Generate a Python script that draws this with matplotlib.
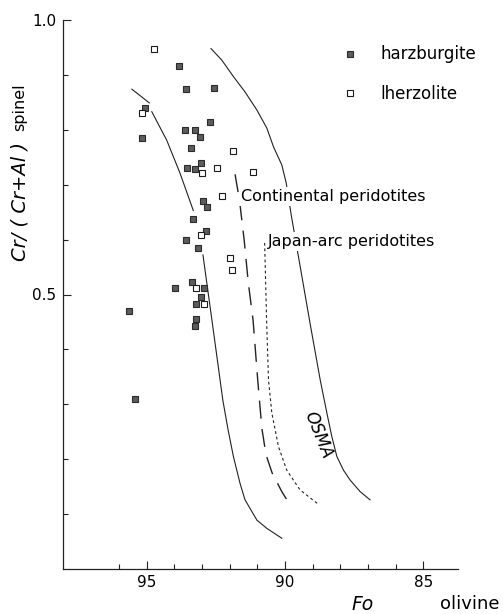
import numpy as np
import matplotlib.pyplot as plt

# Fo (olivine) and Cr# (spinel) of the samples
harz_fo = [93.84, 93.57, 92.58, 95.05, 92.72, 95.16, 93.63, 93.24, 93.08, 93.42,
           93.04, 93.53, 93.24, 92.98, 92.81, 93.33, 92.85, 93.59, 93.15, 93.35,
           93.99, 92.94, 93.03, 93.21, 93.21, 93.26, 95.64, 95.43]
harz_cr = [0.916, 0.874, 0.876, 0.840, 0.815, 0.785, 0.799, 0.799, 0.787, 0.767,
           0.739, 0.730, 0.728, 0.670, 0.659, 0.637, 0.616, 0.599, 0.585, 0.523,
           0.511, 0.511, 0.495, 0.482, 0.455, 0.442, 0.470, 0.310]
lherz_fo = [94.74, 95.16, 91.87, 92.47, 92.99, 91.15, 92.29, 93.05, 92.01, 91.92,
            93.22, 92.95]
lherz_cr = [0.948, 0.831, 0.761, 0.730, 0.721, 0.724, 0.680, 0.609, 0.567, 0.544,
            0.511, 0.482]

# left boundary line (broken where the symbols sit)
lim_fo = [95.54, 94.91, np.nan, 94.82, 94.28, 93.80, 93.32, np.nan,
          92.97, 92.61, 92.25, 92.06, 91.87, 91.63, 91.45, 91.02, 90.66, 90.12]
lim_cr = [0.874, 0.849, np.nan, 0.833, 0.781, 0.721, 0.653, np.nan,
          0.572, 0.440, 0.307, 0.253, 0.205, 0.156, 0.126, 0.089, 0.074, 0.056]

# continental peridotites
cont_fo = [91.81, 91.65, 91.48, 91.33, 91.16, 90.99, 90.84, 90.69, 90.47, 90.12, 89.86]
cont_cr = [0.719, 0.672, 0.599, 0.521, 0.454, 0.344, 0.256, 0.208, 0.175, 0.141, 0.120]

# japan-arc peridotites
jap_fo = [90.74, 90.67, 90.60, 90.48, 90.24, 89.94, 89.46, 88.80]
jap_cr = [0.594, 0.454, 0.344, 0.284, 0.223, 0.180, 0.144, 0.118]

# OSMA
osma_fo = [92.68, 92.29, 91.87, 91.45, 91.02, 90.66, 90.42, 90.12, 89.96, 89.78,
           89.58, 89.10, 88.73, 88.49, 88.31, 88.13, 87.89, 87.65, 87.29, 86.93]
osma_cr = [0.948, 0.927, 0.897, 0.869, 0.836, 0.803, 0.769, 0.736, 0.703, 0.645,
           0.587, 0.448, 0.344, 0.284, 0.241, 0.205, 0.180, 0.162, 0.141, 0.126]

lc = '#222222'

fig = plt.figure(figsize=(5.03, 6.14), dpi=100)
ax = fig.add_axes([63/503, 1-569/614, (458-63)/503, (569-20)/614])

ax.plot(lim_fo, lim_cr, color=lc, lw=0.8)
ax.plot(cont_fo, cont_cr, color=lc, lw=1.0, linestyle=(0, (13, 7.5)))
ax.plot(jap_fo, jap_cr, color=lc, lw=0.8, linestyle=(0, (2.5, 2.5)))
ax.plot(osma_fo, osma_cr, color=lc, lw=0.8)

ax.plot(harz_fo, harz_cr, 's', ms=5, mfc='#5c5c5c', mec='#2a2a2a', mew=0.8,
        label='harzburgite', zorder=5)
ax.plot(lherz_fo, lherz_cr, 's', ms=5, mfc='white', mec='#1a1a1a', mew=0.8,
        label='lherzolite', zorder=5)

box = dict(facecolor='white', edgecolor='none', pad=1.5)
ax.text(91.60, 0.678, 'Continental peridotites', fontsize=11.5, va='center',
        ha='left', bbox=box, zorder=4)
ax.text(90.62, 0.597, 'Japan-arc peridotites', fontsize=11.5, va='center',
        ha='left', bbox=box, zorder=4)
ax.text(88.81, 0.244, 'OSMA', fontsize=12, style='italic', rotation=-68,
        ha='center', va='center')

ax.set_xlim(98.03, 83.75)
ax.set_ylim(0, 1.0)
ax.set_xticks([95, 90, 85])
ax.set_xticks([96, 94, 93, 92, 91, 89, 88, 87, 86], minor=True)
ax.set_yticks([0.5, 1.0])
ax.set_yticklabels(['0.5', '1.0'])
ax.set_yticks(np.arange(0.1, 1.0, 0.1), minor=True)
ax.tick_params(which='both', direction='in', labelsize=11, width=0.8, color=lc)
ax.tick_params(which='major', length=6)
ax.tick_params(which='minor', length=3.5)
ax.tick_params(axis='x', pad=4)
ax.tick_params(axis='y', pad=5)
ax.spines['top'].set_visible(False)
ax.spines['right'].set_visible(False)
for s in ['left', 'bottom']:
    ax.spines[s].set_linewidth(0.9)
    ax.spines[s].set_color(lc)

ax.legend(loc='upper left', bbox_to_anchor=(0.7056, 0.9536), frameon=False,
          fontsize=12, handlelength=1.0, handletextpad=1.3, labelspacing=1.3,
          borderpad=0, borderaxespad=0, numpoints=1)

fig.text(20/503, 1-202/614, 'Cr/ ( Cr+Al )', rotation=90, fontsize=14,
         style='italic', ha='center', va='center')
fig.text(20/503, 1-107/614, 'spinel', rotation=90, fontsize=11.5,
         ha='center', va='center')
fig.text(363/503, 1-604/614, 'Fo', fontsize=13.5, style='italic',
         ha='center', va='center')
fig.text(470/503, 1-604/614, 'olivine', fontsize=13, ha='center', va='center')

fig.savefig('out.png', dpi=100)
